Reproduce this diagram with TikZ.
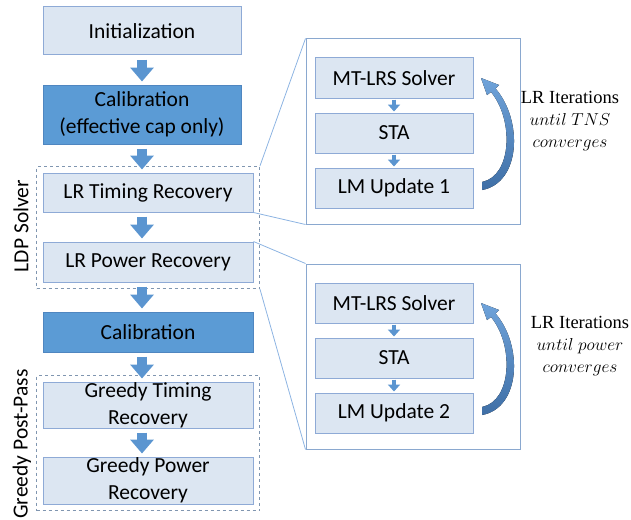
\documentclass[tikz,border=0pt]{standalone}
\usepackage{fontspec}
\setmainfont{Carlito}
\newfontfamily\labelfont{Liberation Serif}
\usetikzlibrary{arrows.meta,fit}

\definecolor{boxfill}{HTML}{DCE6F2}
\definecolor{boxline}{HTML}{8EAAD6}
\definecolor{darkfill}{HTML}{5B9BD5}
\definecolor{darkline}{HTML}{4F86C0}
\definecolor{arrowblue}{HTML}{5B95D0}
\definecolor{frameline}{HTML}{8096B0}
\definecolor{panelline}{HTML}{8AA8CF}
\definecolor{zoomline}{HTML}{8DB4E2}
\definecolor{curvelight}{HTML}{6FA3DA}
\definecolor{curvedark}{HTML}{3F6FA6}

\begin{document}
\begin{tikzpicture}[x=1pt, y=-1pt,
  font=\fontsize{21.5}{27}\selectfont,
  stepnode/.style={draw=boxline, fill=boxfill, line width=1pt, align=center, inner sep=0pt},
  darknode/.style={stepnode, fill=darkfill, draw=darkline},
  frame/.style={draw=frameline, dashed, line width=0.8pt, inner sep=6},
  panel/.style={draw=panelline, line width=1pt, fill=white},
  bigarrow/.style={draw=arrowblue, line width=10pt, -{Triangle[width=23pt,length=14pt]}, shorten <=4pt, shorten >=3pt},
  smallarrow/.style={draw=arrowblue, line width=4.5pt, -{Triangle[width=12pt,length=7pt]}, shorten <=1pt, shorten >=1pt},
  zoom/.style={draw=zoomline, line width=0.8pt},
  iterlabel/.style={font=\labelfont\fontsize{18.5}{22}\selectfont, align=center}]
\useasboundingbox (0,0) rectangle (631,519);
% Main flow
\node[stepnode, minimum width=198, minimum height=48] (init) at (142,31) {Initialization};
\node[darknode, minimum width=198, minimum height=59] (cal1) at (142,114.5) {Calibration\\(effective cap only)};
\node[stepnode, minimum width=210, minimum height=39] (lrt) at (148,192.5) {LR Timing Recovery};
\node[stepnode, minimum width=210, minimum height=40] (lrp) at (148,262) {LR Power Recovery};
\node[darknode, minimum width=210, minimum height=40] (cal2) at (148,332) {Calibration};
\node[stepnode, minimum width=210, minimum height=46] (gtr) at (148,405) {Greedy Timing\\Recovery};
\node[stepnode, minimum width=210, minimum height=47] (gpr) at (148,480.5) {Greedy Power\\Recovery};
% Groups
\node[frame, fit=(lrt)(lrp)] (ldp) {};
\node[frame, fit=(gtr)(gpr)] (greedy) {};
\node[rotate=90] (ldptext) at (21,226) {LDP Solver};
\node[rotate=90] (greedytext) at (22,444) {Greedy Post-Pass};
% Arrows
\coordinate (axis) at (142,0);
\draw[bigarrow] (init.south -| axis) -- (cal1.north -| axis);
\draw[bigarrow] (cal1.south -| axis) -- (lrt.north -| axis);
\draw[bigarrow] (lrt.south -| axis) -- (lrp.north -| axis);
\draw[bigarrow] (lrp.south -| axis) -- (cal2.north -| axis);
\draw[bigarrow] (cal2.south -| axis) -- (gtr.north -| axis);
\draw[bigarrow] (gtr.south -| axis) -- (gpr.north -| axis);
% Zoomed panels
\foreach \p/\dy/\lx/\what in {1/0/570/TNS, 2/225/580/power} {
  \node[panel, minimum width=214, minimum height=185] (pane\p) at (413,131.5+\dy) {};
  \node[stepnode, minimum width=158, minimum height=40] (mt\p) at (394,78+\dy) {MT-LRS Solver};
  \node[stepnode, minimum width=158, minimum height=40] (sta\p) at (394,133+\dy) {STA};
  \node[stepnode, minimum width=158, minimum height=40] (lm\p) at (394,188+\dy) {LM Update \p};
  \draw[smallarrow] (mt\p) -- (sta\p);
  \draw[smallarrow] (sta\p) -- (lm\p);
  \begin{scope}[shift={(0,\dy)}]
    \fill[top color=curvelight, bottom color=curvedark] (482,190) .. controls (521,183) and (523,120) .. (495.5,88.5)
      -- (499,85) -- (481,78) -- (487,95) -- (491,92) .. controls (514,120) and (512,176) .. (482,182) -- cycle;
  \end{scope}
  \node[iterlabel] (iter\p) at (\lx,121+\dy) {LR Iterations\\$until\ \what$\\$converges$};
}
% Zoom lines
\draw[zoom] (ldp.north east) -- (pane1.north west);
\draw[zoom] (lrt.south east) -- (pane1.south west);
\draw[zoom] (lrp.north east) -- (pane2.north west);
\draw[zoom] (ldp.south east) -- (pane2.south west);
\end{tikzpicture}
\end{document}
